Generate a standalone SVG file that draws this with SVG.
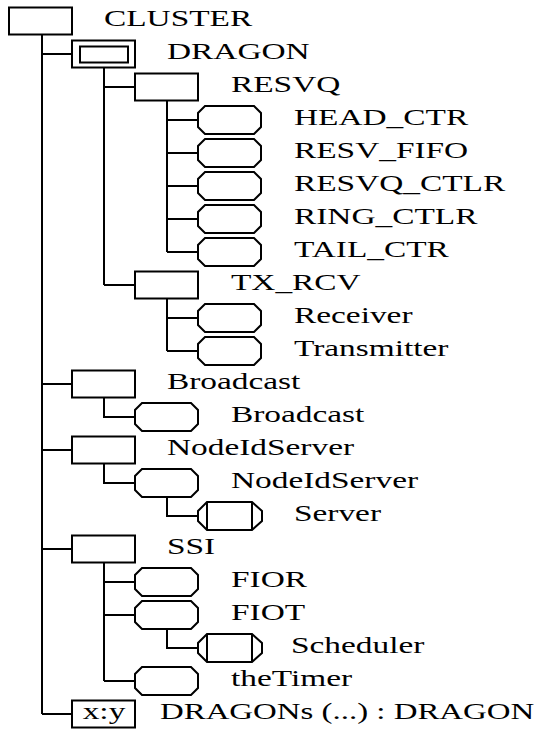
<svg xmlns="http://www.w3.org/2000/svg" width="537" height="729" viewBox="0 0 537 729">
<style>
.b{fill:#fff;stroke:#000;stroke-width:2}
.c{fill:none;stroke:#000;stroke-width:2}
.t{font-family:"Liberation Serif","DejaVu Serif",serif;font-size:24px;fill:#000}
</style>
<defs>
<rect id="box" class="b" x="0" y="-13.5" width="63" height="27"/>
<polygon id="oct" class="b" points="7,-14 56,-14 63,-7 63,7 56,14 7,14 0,7 0,-7"/>
<g id="srv"><polygon class="b" points="9,-14 54,-14 64,-5 64,5 54,14 9,14 0,5 0,-5"/><path class="c" d="M9,-14V14M54,-14V14"/></g>
</defs>
<rect width="537" height="729" fill="#fff"/>
<g id="connectors">
<path class="c" d="M42,35V714 M42,54H72 M42,384H72 M42,450H72 M42,549H72 M42,714H72"/>
<path class="c" d="M104,67.5V285 M104,87H135 M104,285H135"/>
<path class="c" d="M167,100.5V252 M167,120H198 M167,153H198 M167,186H198 M167,219H198 M167,252H198"/>
<path class="c" d="M167,298.5V351 M167,318H198 M167,351H198"/>
<path class="c" d="M104,397.5V417H135"/>
<path class="c" d="M104,463.5V483H135"/>
<path class="c" d="M167,497V516H198"/>
<path class="c" d="M104,562.5V681 M104,582H135 M104,615H135 M104,681H135"/>
<path class="c" d="M167,629V648H198"/>
</g>
<g id="n-cluster"><rect class="b" x="9" y="7.5" width="63" height="27"/><text class="t" transform="translate(104,26) scale(1.39,1)">CLUSTER</text></g>
<g id="n-dragon"><rect class="b" x="72" y="40.5" width="63" height="27"/><rect class="b" x="80" y="46.5" width="48" height="16"/><text class="t" transform="translate(167,59) scale(1.39,1)">DRAGON</text></g>
<g id="n-resvq"><use href="#box" x="135" y="87"/><text class="t" transform="translate(231,92) scale(1.39,1)">RESVQ</text></g>
<g id="n-head"><use href="#oct" x="198" y="120"/><text class="t" transform="translate(294,125) scale(1.39,1)">HEAD_CTR</text></g>
<g id="n-fifo"><use href="#oct" x="198" y="153"/><text class="t" transform="translate(294,158) scale(1.39,1)">RESV_FIFO</text></g>
<g id="n-ctlr"><use href="#oct" x="198" y="186"/><text class="t" transform="translate(294,191) scale(1.39,1)">RESVQ_CTLR</text></g>
<g id="n-ring"><use href="#oct" x="198" y="219"/><text class="t" transform="translate(294,224) scale(1.39,1)">RING_CTLR</text></g>
<g id="n-tail"><use href="#oct" x="198" y="252"/><text class="t" transform="translate(294,257) scale(1.39,1)">TAIL_CTR</text></g>
<g id="n-txrcv"><use href="#box" x="135" y="285"/><text class="t" transform="translate(231,290) scale(1.39,1)">TX_RCV</text></g>
<g id="n-receiver"><use href="#oct" x="198" y="318"/><text class="t" transform="translate(294,323) scale(1.39,1)">Receiver</text></g>
<g id="n-transmitter"><use href="#oct" x="198" y="351"/><text class="t" transform="translate(294,356) scale(1.39,1)">Transmitter</text></g>
<g id="n-broadcast1"><use href="#box" x="72" y="384"/><text class="t" transform="translate(167,389) scale(1.39,1)">Broadcast</text></g>
<g id="n-broadcast2"><use href="#oct" x="135" y="417"/><text class="t" transform="translate(231,422) scale(1.39,1)">Broadcast</text></g>
<g id="n-nodeid1"><use href="#box" x="72" y="450"/><text class="t" transform="translate(167,455) scale(1.39,1)">NodeIdServer</text></g>
<g id="n-nodeid2"><use href="#oct" x="135" y="483"/><text class="t" transform="translate(231,488) scale(1.39,1)">NodeIdServer</text></g>
<g id="n-server"><use href="#srv" x="198" y="516"/><text class="t" transform="translate(294,521) scale(1.39,1)">Server</text></g>
<g id="n-ssi"><use href="#box" x="72" y="549"/><text class="t" transform="translate(167,554) scale(1.39,1)">SSI</text></g>
<g id="n-fior"><use href="#oct" x="135" y="582"/><text class="t" transform="translate(231,587) scale(1.39,1)">FIOR</text></g>
<g id="n-fiot"><use href="#oct" x="135" y="615"/><text class="t" transform="translate(231,620) scale(1.39,1)">FIOT</text></g>
<g id="n-scheduler"><use href="#srv" x="198" y="648"/><text class="t" transform="translate(291,653) scale(1.39,1)">Scheduler</text></g>
<g id="n-timer"><use href="#oct" x="135" y="681"/><text class="t" transform="translate(231,686) scale(1.39,1)">theTimer</text></g>
<g id="n-dragons"><use href="#box" x="72" y="714"/><text class="t" transform="translate(104,719) scale(1.39,1)" text-anchor="middle">x:y</text><text class="t" transform="translate(160,719) scale(1.37,1)">DRAGONs (...) : DRAGON</text></g>
</svg>
